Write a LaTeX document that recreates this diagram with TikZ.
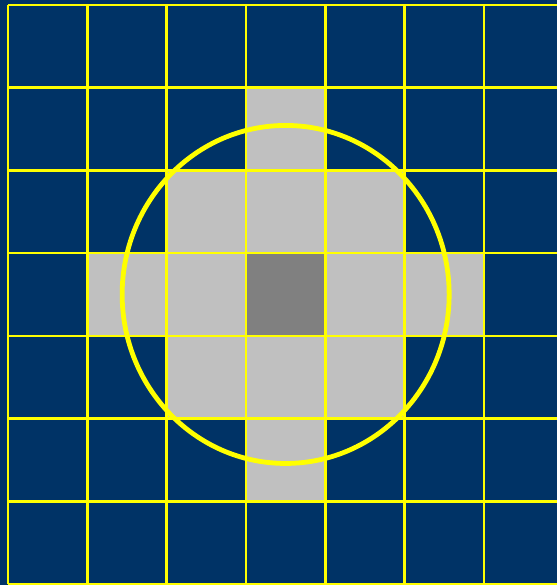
\documentclass[tikz,border=0pt]{standalone}
\definecolor{navy}{HTML}{003366}
\definecolor{lgray}{HTML}{C0C0C0}
\definecolor{dgray}{HTML}{808080}
\definecolor{ylw}{HTML}{FFFF00}
\begin{document}
\begin{tikzpicture}[x=1pt,y=-1pt,
  gridline/.style={draw=ylw,line width=2.6pt},
  ring/.style={draw=ylw,line width=4.8pt}]
\useasboundingbox (0,0) rectangle (557,585);
\fill[navy] (0,0) rectangle (557,585);
\def\cw{79.33}
\def\ch{82.7}
\def\ox{8}
\def\oy{5}
% light gray cells (col,row)
\foreach \c/\r in {3/1,3/2,3/4,3/5,1/3,2/3,4/3,5/3,2/2,4/2,2/4,4/4}
  \fill[lgray] (\ox+\c*\cw,\oy+\r*\ch) rectangle ++(\cw,\ch);
\fill[dgray] (\ox+3*\cw,\oy+3*\ch) rectangle ++(\cw,\ch);
% grid
\foreach \i in {0,...,6}
  \draw[gridline] (\ox+\i*\cw,\oy) -- (\ox+\i*\cw,\oy+7*\ch);
\foreach \j in {0,...,7}
  \draw[gridline] (\ox,\oy+\j*\ch) -- (557,\oy+\j*\ch);
% circle
\draw[ring] (\ox+3.5*\cw,\oy+3.5*\ch) ellipse [x radius=163.5, y radius=169];
\end{tikzpicture}
\end{document}
